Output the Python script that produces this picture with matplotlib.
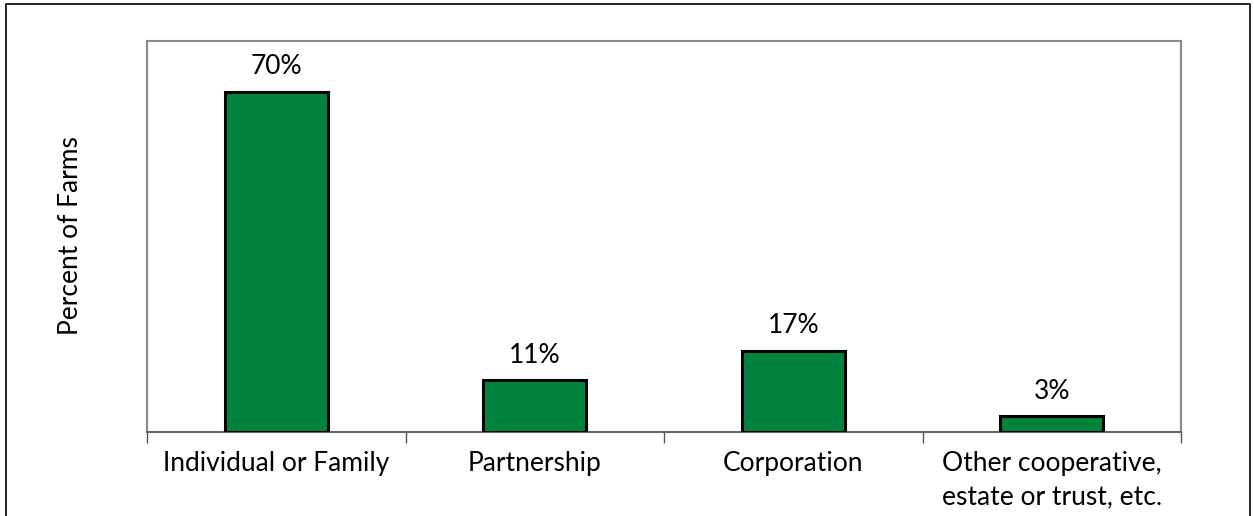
import matplotlib.pyplot as plt
import matplotlib.patches as mpatches
import numpy as np

plt.rcParams['font.family'] = ['Lato', 'DejaVu Sans']

categories = ['Individual or Family', 'Partnership', 'Corporation',
              'Other cooperative,\nestate or trust, etc.']
percents = [69.6, 10.6, 16.6, 3.2]

fig = plt.figure(figsize=(12.54, 5.16), dpi=100)
ax = fig.add_axes([147/1254, 1 - 432/516, (1181 - 147)/1254, (432 - 41)/516])

x = np.arange(len(categories))
bars = ax.bar(x, percents, width=0.4, color='#00843D', edgecolor='black', linewidth=2.2, zorder=3)

for b, v in zip(bars, percents):
    ax.annotate(f'{v:.0f}%', (b.get_x() + b.get_width()/2, v), xytext=(0, 9),
                textcoords='offset points', ha='center', va='bottom', fontsize=19)

ax.set_xlim(-0.5, len(categories) - 0.5)
ax.set_ylim(0, 80)
ax.set_yticks([])
ax.set_xticks(np.arange(len(categories) + 1) - 0.5)
ax.set_xticklabels([])
ax.tick_params(axis='x', direction='out', length=8, width=1, color='#555555')
ax.set_xticks(x, minor=True)
ax.set_xticklabels(categories, minor=True, fontsize=19, linespacing=1.42)
ax.tick_params(axis='x', which='minor', length=0, pad=14)
for lab in ax.get_xticklabels(minor=True):
    lab.set_va('top')

for s in ['left', 'top', 'right']:
    ax.spines[s].set_color('#888888')
    ax.spines[s].set_linewidth(1.5)
ax.spines['bottom'].set_color('#666666')
ax.spines['bottom'].set_linewidth(1.5)

fig.text(70/1254, 1 - 236/516, 'Percent of Farms', rotation=90, ha='center', va='center', fontsize=19)

# outer chart border
fig.patches.append(mpatches.Rectangle((6/1254, -0.01), (1250 - 6)/1254, 1 - 4/516 + 0.01,
                                      transform=fig.transFigure, fill=False,
                                      edgecolor='black', linewidth=1.2))

fig.savefig('out.png', dpi=100)
